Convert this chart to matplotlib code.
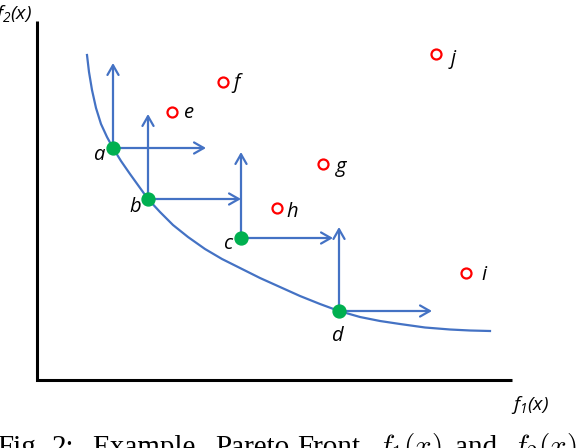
import matplotlib
matplotlib.use('Agg')
import matplotlib.pyplot as plt

# Coordinates (pixels, y down)

# Pareto-optimal points (green)
pareto_names = ['a', 'b', 'c', 'd']
pareto_x = [113, 148, 241, 339]
pareto_y = [148, 199, 238, 311]
# where the "dominance" arrows end
arrow_up_y = [63, 114, 152, 227]
arrow_right_x = [206, 241, 333, 432]
# label positions for a..d
pareto_lbl_x = [99, 135, 228, 337]
pareto_lbl_y = [155, 207, 244, 336]

# Dominated points (red hollow)
dom_names = ['e', 'f', 'g', 'h', 'i', 'j']
dom_x = [172, 223, 323, 277, 466, 436]
dom_y = [112, 82, 164, 208, 273, 54]
dom_lbl_x = [189, 236, 341, 292, 484, 453]
dom_lbl_y = [113, 83, 167, 212, 275, 59]

# Pareto front curve, traced by eye
front_x = [87, 89, 92, 96, 101, 107, 113, 121, 130, 139, 148, 160, 173, 188,
           205, 222, 240, 260, 280, 300, 320, 339, 360, 380, 400, 425, 450, 470, 490]
front_y = [55, 72, 90, 108, 124, 137, 148, 161, 174, 186.5, 199, 212, 225, 237,
           249, 259, 268, 278, 287, 296, 304, 311, 317, 321, 324, 327.5, 329.5, 330.5, 331]

# Caption words (justified in the source, so each word sits on its own x)
caption_words = ['Fig.', '2:', 'Example', 'Pareto', 'Front.', r'$f_1(x)$', 'and', r'$f_2(x)$']
caption_x = [-3, 52, 92, 215, 297, 377, 455, 512]

BLUE = '#4472C4'
GREEN = '#00B050'
RED = '#FF0000'
W, H = 576, 448

plt.rcParams['mathtext.fontset'] = 'custom'
plt.rcParams['mathtext.it'] = 'Open Sans:italic'
plt.rcParams['mathtext.rm'] = 'Open Sans:italic'

fig = plt.figure(figsize=(W / 100, H / 100), dpi=100)
ax = fig.add_axes([0, 0, 1, 1])
ax.set_xlim(0, W)
ax.set_ylim(H, 0)
ax.axis('off')

# axes of the sketch
ax.plot([37, 37, 512], [21, 380, 380], color='black', lw=2.2,
        solid_joinstyle='miter', solid_capstyle='butt')
ax.text(-6, 14, r'$f_2(x)$', fontsize=14, va='center', ha='left', color='black')
ax.text(511, 405, r'$f_1(x)$', fontsize=14, va='center', ha='left', color='black')

# pareto front
ax.plot(front_x, front_y, color=BLUE, lw=1.6, solid_joinstyle='round')

# dominance arrows
head = '->,head_length=0.7,head_width=0.4'
for x, y, uy, rx in zip(pareto_x, pareto_y, arrow_up_y, arrow_right_x):
    for tx, ty in [(x, uy), (rx, y)]:
        ax.annotate('', xy=(tx, ty), xytext=(x, y),
                    arrowprops=dict(arrowstyle=head, color=BLUE, lw=1.6,
                                    mutation_scale=10, shrinkA=0, shrinkB=0))

ax.plot(pareto_x, pareto_y, 'o', color=GREEN, ms=9.3, mec=GREEN, zorder=5)
ax.plot(dom_x, dom_y, 'o', mfc='white', mec=RED, mew=1.6, ms=7.2, zorder=5)

for name, lx, ly in zip(pareto_names + dom_names,
                        pareto_lbl_x + dom_lbl_x, pareto_lbl_y + dom_lbl_y):
    ax.text(lx, ly, name, fontsize=14.5, family='Open Sans', style='italic',
            ha='center', va='center', color='black')

for word, x in zip(caption_words, caption_x):
    ax.text(x, 455, word, fontsize=21, family='Liberation Serif',
            math_fontfamily='cm', ha='left', va='baseline', color='black')

fig.savefig('out.png', dpi=100)
